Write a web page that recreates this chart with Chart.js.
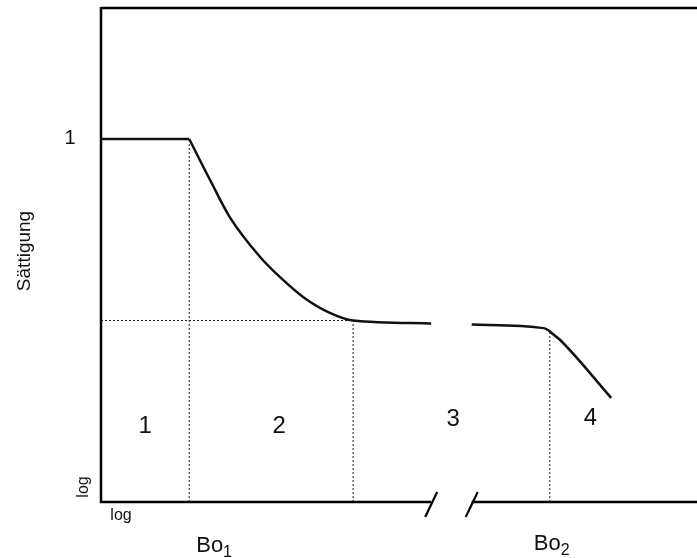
<!DOCTYPE html>
<html>
<head>
<meta charset="utf-8">
<style>
  html, body { margin: 0; padding: 0; background: #fff; }
  canvas { display: block; }
</style>
<script src="https://cdn.jsdelivr.net/npm/chart.js@4/dist/chart.umd.min.js"></script>
</head>
<body>
<canvas id="c" width="697" height="558"></canvas>
<script>
// Schematic saturation curve over a log Bo axis (relative units)
const bo1 = 14.8;          // first critical Bond number
const bo2 = 75.3;          // second critical Bond number
const plateau = 0.5;       // residual saturation level
const plateauStart = 42.3; // where the decline reaches the plateau
const breakFrom = 55.4;    // axis break start
const breakTo = 62.2;      // axis break end

// Region 1: full saturation
const flatX = [0, 14.8];
const flatY = [1.0, 1.0];
// Region 2: decline to the plateau, continuing up to the break
const declineX = [14.8, 18.3, 21.6, 26.7, 30.0, 33.9, 38.4, 42.3, 55.4];
const declineY = [1.0, 0.887, 0.785, 0.675, 0.620, 0.565, 0.521, 0.500, 0.492];
// Region 3 (after break) + 4: plateau, then drop
const dropX = [62.2, 74.3, 75.0, 75.8, 77.0, 85.6];
const dropY = [0.489, 0.479, 0.474, 0.463, 0.447, 0.287];

const regionLabels = ['1', '2', '3', '4'];
const regionX = [7.4, 29.9, 59.1, 82.1];
const regionY = [0.207, 0.207, 0.229, 0.231];

const pts = (xs, ys) => xs.map((x, i) => ({ x, y: ys[i] }));

const FONT = '"Liberation Sans", Arial, sans-serif';
const dashStyle = { borderColor: '#222', borderWidth: 1, borderDash: [2, 2], pointRadius: 0, showLine: true, fill: false };
const solidStyle = { borderColor: '#111', borderWidth: 2.5, pointRadius: 0, showLine: true, fill: false, tension: 0 };

const frame = {
  id: 'frame',
  afterDraw(chart) {
    const { ctx, chartArea: a, scales: { x, y } } = chart;
    ctx.save();
    ctx.strokeStyle = '#000';
    ctx.lineCap = 'butt';
    // left axis
    ctx.lineWidth = 2.5;
    ctx.beginPath();
    ctx.moveTo(a.left, a.top - 1);
    ctx.lineTo(a.left, a.bottom + 1);
    ctx.stroke();
    // top edge
    ctx.beginPath();
    ctx.moveTo(a.left, a.top);
    ctx.lineTo(a.right, a.top);
    ctx.stroke();
    // bottom axis with break
    const b1 = x.getPixelForValue(breakFrom), b2 = x.getPixelForValue(breakTo);
    ctx.beginPath();
    ctx.moveTo(a.left - 1, a.bottom);
    ctx.lineTo(b1, a.bottom);
    ctx.moveTo(b2, a.bottom);
    ctx.lineTo(a.right, a.bottom);
    ctx.stroke();
    ctx.lineWidth = 2.2;
    for (const bx of [b1, b2]) {
      ctx.beginPath();
      ctx.moveTo(bx - 6, a.bottom + 15);
      ctx.lineTo(bx + 6, a.bottom - 10);
      ctx.stroke();
    }

    // texts
    ctx.fillStyle = '#111';
    ctx.textAlign = 'center';
    ctx.textBaseline = 'middle';
    ctx.font = '20px ' + FONT;
    ctx.fillText('1', a.left - 31, y.getPixelForValue(1) - 1);

    ctx.save();
    ctx.translate(25, 251);
    ctx.rotate(-Math.PI / 2);
    ctx.font = '19px ' + FONT;
    ctx.fillText('Sättigung', 0, 0);
    ctx.restore();

    ctx.save();
    ctx.translate(a.left - 17, a.bottom - 15);
    ctx.rotate(-Math.PI / 2);
    ctx.font = '16px ' + FONT;
    ctx.fillText('log', 0, 0);
    ctx.restore();

    ctx.font = '16px ' + FONT;
    ctx.fillText('log', a.left + 20, a.bottom + 14);

    // Bo labels with subscripts
    const subLabel = (txt, sub, left, baseY) => {
      ctx.textBaseline = 'alphabetic';
      ctx.textAlign = 'left';
      ctx.font = '22px ' + FONT;
      const w = ctx.measureText(txt).width;
      ctx.fillText(txt, left, baseY);
      ctx.font = '16px ' + FONT;
      ctx.fillText(sub, left + w, baseY + 5);
    };
    subLabel('Bo', '1', x.getPixelForValue(bo1) + 7, 552);
    subLabel('Bo', '2', x.getPixelForValue(bo2) - 16, 550);

    // region numbers
    ctx.textAlign = 'center';
    ctx.textBaseline = 'middle';
    ctx.font = '24px ' + FONT;
    regionLabels.forEach((t, i) => {
      ctx.fillText(t, x.getPixelForValue(regionX[i]), y.getPixelForValue(regionY[i]));
    });
    ctx.restore();
  }
};

new Chart(document.getElementById('c'), {
  type: 'scatter',
  data: {
    datasets: [
      { ...dashStyle, data: pts([bo1, bo1], [0, 1]) },
      { ...dashStyle, data: pts([plateauStart, plateauStart], [0, plateau]) },
      { ...dashStyle, data: pts([0, plateauStart], [plateau, plateau]) },
      { ...dashStyle, data: pts([bo2, bo2], [0, 0.474]) },
      { ...solidStyle, data: pts(flatX, flatY) },
      { ...solidStyle, cubicInterpolationMode: 'monotone', data: pts(declineX, declineY) },
      { ...solidStyle, cubicInterpolationMode: 'monotone', data: pts(dropX, dropY) }
    ]
  },
  options: {
    responsive: false,
    animation: false,
    devicePixelRatio: 1,
    layout: { padding: { left: 101, right: 0, top: 8, bottom: 56 } },
    plugins: { legend: { display: false }, tooltip: { enabled: false } },
    clip: false,
    scales: {
      x: { type: 'linear', min: 0, max: 100, display: false },
      y: { type: 'linear', min: 0, max: 1.361, display: false }
    }
  },
  plugins: [frame]
});
</script>
</body>
</html>
